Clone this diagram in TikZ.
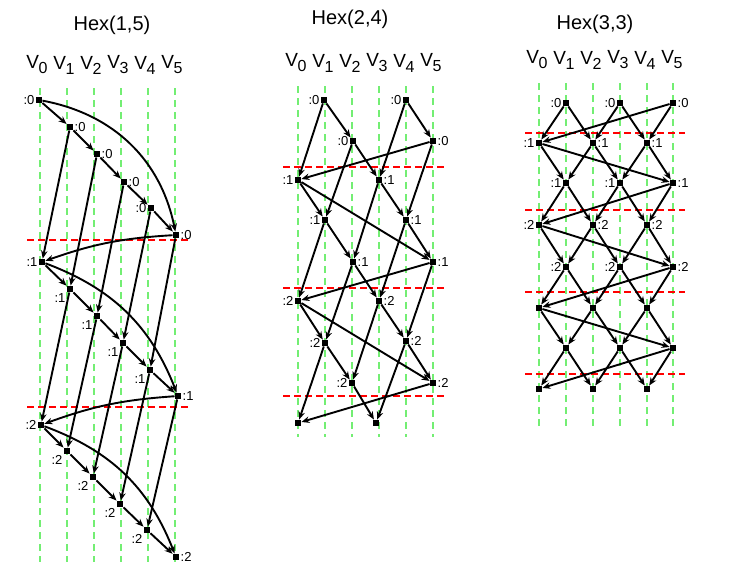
\documentclass[tikz,border=0pt]{standalone}
\usepackage{fontspec}
\setmainfont{Liberation Sans}
\usetikzlibrary{arrows.meta}
\definecolor{colgreen}{RGB}{115,238,115}
\newcommand{\hd}[1]{V\kern-0.5pt\raisebox{-5pt}{\fontsize{16}{16}\selectfont #1}}

\begin{document}
\begin{tikzpicture}[x=1pt,y=-1pt,
  vtx/.style={fill=black,minimum size=6.5pt,inner sep=0pt},
  lbl/.style={font=\fontsize{13}{13}\selectfont,inner sep=1pt},
  every label/.style={lbl},
  link/.style={-{Stealth[length=8pt,width=6.5pt]},line width=1.9pt},
  colline/.style={colgreen,dash pattern=on 7pt off 5pt,line width=1.3pt},
  sepline/.style={red,dash pattern=on 7pt off 4pt,line width=1.3pt},
  title/.style={font=\fontsize{20}{20}\selectfont},
  head/.style={font=\fontsize{19}{19}\selectfont,inner sep=0pt}]
\useasboundingbox (0,0) rectangle (735,581);

\node[title] (ta) at (112,25) {Hex(1,5)};
\node[title] (tb) at (350,19) {Hex(2,4)};
\node[title] (tc) at (595,24) {Hex(3,3)};

\node[head] (ha0) at (37,65) {\hd{0}};
\node[head] (ha1) at (64,65) {\hd{1}};
\node[head] (ha2) at (91,65) {\hd{2}};
\node[head] (ha3) at (118,65) {\hd{3}};
\node[head] (ha4) at (145,65) {\hd{4}};
\node[head] (ha5) at (172,65) {\hd{5}};
\node[head] (hb0) at (296,63) {\hd{0}};
\node[head] (hb1) at (323,63) {\hd{1}};
\node[head] (hb2) at (350,63) {\hd{2}};
\node[head] (hb3) at (377,63) {\hd{3}};
\node[head] (hb4) at (404,63) {\hd{4}};
\node[head] (hb5) at (431,63) {\hd{5}};
\node[head] (hc0) at (537,60) {\hd{0}};
\node[head] (hc1) at (564,60) {\hd{1}};
\node[head] (hc2) at (591,60) {\hd{2}};
\node[head] (hc3) at (618,60) {\hd{3}};
\node[head] (hc4) at (645,60) {\hd{4}};
\node[head] (hc5) at (672,60) {\hd{5}};

\draw[colline] (40,88) -- (40,562);
\draw[colline] (67,88) -- (67,562);
\draw[colline] (94,88) -- (94,562);
\draw[colline] (121,88) -- (121,562);
\draw[colline] (148,88) -- (148,562);
\draw[colline] (175,88) -- (175,562);
\draw[colline] (298,86) -- (298,437);
\draw[colline] (325,86) -- (325,437);
\draw[colline] (352,86) -- (352,437);
\draw[colline] (379,86) -- (379,437);
\draw[colline] (406,86) -- (406,437);
\draw[colline] (433,86) -- (433,437);
\draw[colline] (539,83) -- (539,430);
\draw[colline] (566,83) -- (566,430);
\draw[colline] (593,83) -- (593,430);
\draw[colline] (620,83) -- (620,430);
\draw[colline] (647,83) -- (647,430);
\draw[colline] (673,83) -- (673,430);

\draw[sepline] (27,240) -- (190,240);
\draw[sepline] (27,407) -- (190,407);
\draw[sepline] (283,167) -- (445,167);
\draw[sepline] (283,288) -- (445,288);
\draw[sepline] (283,396) -- (445,396);
\draw[sepline] (525,133) -- (685,133);
\draw[sepline] (525,210) -- (685,210);
\draw[sepline] (525,292) -- (685,292);
\draw[sepline] (525,374) -- (685,374);

\node[vtx,label={left:{:0}}] (a00) at (39,100) {};
\node[vtx,label={right:{:0}}] (a01) at (70,127) {};
\node[vtx,label={right:{:0}}] (a02) at (97,154) {};
\node[vtx,label={right:{:0}}] (a03) at (124,182) {};
\node[vtx,label={left:{:0}}] (a04) at (151,208) {};
\node[vtx,label={right:{:0}}] (a05) at (176,235) {};
\node[vtx,label={left:{:1}}] (a10) at (42,262) {};
\node[vtx,label={below left:{:1}}] (a11) at (70,289) {};
\node[vtx,label={below left:{:1}}] (a12) at (97,316) {};
\node[vtx,label={below left:{:1}}] (a13) at (123,343) {};
\node[vtx,label={below left:{:1}}] (a14) at (150,370) {};
\node[vtx,label={right:{:1}}] (a15) at (178,396) {};
\node[vtx,label={left:{:2}}] (a20) at (41,425) {};
\node[vtx,label={below left:{:2}}] (a21) at (67,451) {};
\node[vtx,label={below left:{:2}}] (a22) at (93,477) {};
\node[vtx,label={below left:{:2}}] (a23) at (120,504) {};
\node[vtx,label={below left:{:2}}] (a24) at (147,530) {};
\node[vtx,label={right:{:2}}] (a25) at (176,557) {};

\draw[link] (a00) -- (a01);
\draw[link] (a01) -- (a02);
\draw[link] (a02) -- (a03);
\draw[link] (a03) -- (a04);
\draw[link] (a04) -- (a05);
\draw[link] (a00) to[bend left=34] (a05);
\draw[link] (a05) to[bend right=8] (a10);
\draw[link] (a01) -- (a10);
\draw[link] (a02) -- (a11);
\draw[link] (a03) -- (a12);
\draw[link] (a04) -- (a13);
\draw[link] (a05) -- (a14);
\draw[link] (a10) -- (a11);
\draw[link] (a11) -- (a12);
\draw[link] (a12) -- (a13);
\draw[link] (a13) -- (a14);
\draw[link] (a14) -- (a15);
\draw[link] (a10) to[bend left=24] (a15);
\draw[link] (a15) to[bend right=8] (a20);
\draw[link] (a11) -- (a20);
\draw[link] (a12) -- (a21);
\draw[link] (a13) -- (a22);
\draw[link] (a14) -- (a23);
\draw[link] (a15) -- (a24);
\draw[link] (a20) -- (a21);
\draw[link] (a21) -- (a22);
\draw[link] (a22) -- (a23);
\draw[link] (a23) -- (a24);
\draw[link] (a24) -- (a25);
\draw[link] (a20) to[bend left=24] (a25);

\node[vtx,label={left:{:0}}] (b01) at (324,100) {};
\node[vtx,label={left:{:0}}] (b04) at (406,100) {};
\node[vtx,label={left:{:0}}] (b12) at (353,141) {};
\node[vtx,label={right:{:0}}] (b15) at (433,141) {};
\node[vtx,label={left:{:1}}] (b20) at (298,180) {};
\node[vtx,label={right:{:1}}] (b23) at (379,180) {};
\node[vtx,label={left:{:1}}] (b31) at (325,220) {};
\node[vtx,label={right:{:1}}] (b34) at (406,220) {};
\node[vtx,label={right:{:1}}] (b42) at (353,262) {};
\node[vtx,label={right:{:1}}] (b45) at (433,262) {};
\node[vtx,label={left:{:2}}] (b50) at (298,301) {};
\node[vtx,label={right:{:2}}] (b53) at (379,301) {};
\node[vtx,label={left:{:2}}] (b61) at (325,343) {};
\node[vtx,label={right:{:2}}] (b64) at (406,341) {};
\node[vtx,label={left:{:2}}] (b72) at (352,383) {};
\node[vtx,label={right:{:2}}] (b75) at (433,383) {};
\node[vtx] (b80) at (298,423) {};
\node[vtx] (b83) at (376,423) {};

\draw[link] (b01) -- (b12);
\draw[link] (b01) -- (b20);
\draw[link] (b04) -- (b15);
\draw[link] (b04) -- (b23);
\draw[link] (b12) -- (b23);
\draw[link] (b12) -- (b31);
\draw[link] (b15) -- (b20);
\draw[link] (b15) -- (b34);
\draw[link] (b20) -- (b31);
\draw[link] (b20) -- (b45);
\draw[link] (b23) -- (b34);
\draw[link] (b23) -- (b42);
\draw[link] (b31) -- (b42);
\draw[link] (b31) -- (b50);
\draw[link] (b34) -- (b45);
\draw[link] (b34) -- (b53);
\draw[link] (b42) -- (b53);
\draw[link] (b42) -- (b61);
\draw[link] (b45) -- (b50);
\draw[link] (b45) -- (b64);
\draw[link] (b50) -- (b61);
\draw[link] (b50) -- (b75);
\draw[link] (b53) -- (b64);
\draw[link] (b53) -- (b72);
\draw[link] (b61) -- (b72);
\draw[link] (b61) -- (b80);
\draw[link] (b64) -- (b75);
\draw[link] (b64) -- (b83);
\draw[link] (b72) -- (b83);
\draw[link] (b75) -- (b80);

\node[vtx,label={left:{:0}}] (c01) at (566,103) {};
\node[vtx,label={left:{:0}}] (c03) at (620,103) {};
\node[vtx,label={right:{:0}}] (c05) at (673,103) {};
\node[vtx,label={left:{:1}}] (c10) at (539,143) {};
\node[vtx,label={right:{:1}}] (c12) at (593,143) {};
\node[vtx,label={right:{:1}}] (c14) at (647,143) {};
\node[vtx,label={left:{:1}}] (c21) at (566,183) {};
\node[vtx,label={left:{:1}}] (c23) at (620,183) {};
\node[vtx,label={right:{:1}}] (c25) at (673,183) {};
\node[vtx,label={left:{:2}}] (c30) at (539,225) {};
\node[vtx,label={right:{:2}}] (c32) at (593,225) {};
\node[vtx,label={right:{:2}}] (c34) at (647,225) {};
\node[vtx,label={left:{:2}}] (c41) at (566,267) {};
\node[vtx,label={left:{:2}}] (c43) at (620,267) {};
\node[vtx,label={right:{:2}}] (c45) at (673,267) {};
\node[vtx] (c50) at (539,308) {};
\node[vtx] (c52) at (593,308) {};
\node[vtx] (c54) at (647,308) {};
\node[vtx] (c61) at (566,348) {};
\node[vtx] (c63) at (620,348) {};
\node[vtx] (c65) at (673,348) {};
\node[vtx] (c70) at (539,389) {};
\node[vtx] (c72) at (593,389) {};
\node[vtx] (c74) at (647,389) {};

\draw[link] (c01) -- (c10);
\draw[link] (c01) -- (c12);
\draw[link] (c03) -- (c12);
\draw[link] (c03) -- (c14);
\draw[link] (c05) -- (c14);
\draw[link] (c05) -- (c10);
\draw[link] (c10) -- (c21);
\draw[link] (c10) -- (c25);
\draw[link] (c12) -- (c21);
\draw[link] (c12) -- (c23);
\draw[link] (c14) -- (c23);
\draw[link] (c14) -- (c25);
\draw[link] (c21) -- (c30);
\draw[link] (c21) -- (c32);
\draw[link] (c23) -- (c32);
\draw[link] (c23) -- (c34);
\draw[link] (c25) -- (c34);
\draw[link] (c25) -- (c30);
\draw[link] (c30) -- (c41);
\draw[link] (c30) -- (c45);
\draw[link] (c32) -- (c41);
\draw[link] (c32) -- (c43);
\draw[link] (c34) -- (c43);
\draw[link] (c34) -- (c45);
\draw[link] (c41) -- (c50);
\draw[link] (c41) -- (c52);
\draw[link] (c43) -- (c52);
\draw[link] (c43) -- (c54);
\draw[link] (c45) -- (c54);
\draw[link] (c45) -- (c50);
\draw[link] (c50) -- (c61);
\draw[link] (c50) -- (c65);
\draw[link] (c52) -- (c61);
\draw[link] (c52) -- (c63);
\draw[link] (c54) -- (c63);
\draw[link] (c54) -- (c65);
\draw[link] (c61) -- (c70);
\draw[link] (c61) -- (c72);
\draw[link] (c63) -- (c72);
\draw[link] (c63) -- (c74);
\draw[link] (c65) -- (c74);
\draw[link] (c65) -- (c70);
\end{tikzpicture}
\end{document}
